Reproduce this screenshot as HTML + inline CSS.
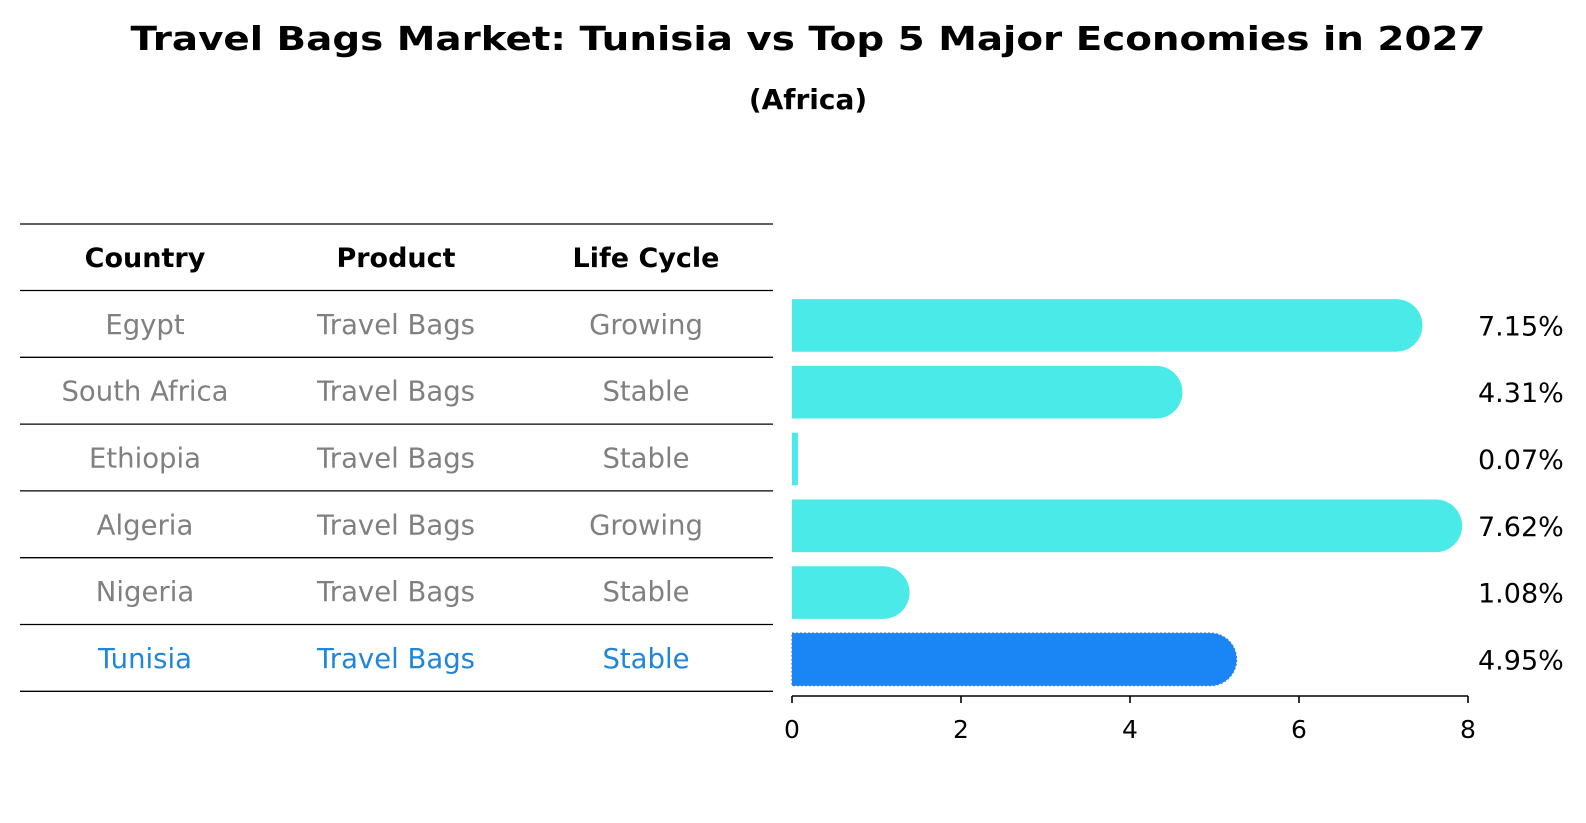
<!DOCTYPE html>
<html><head><meta charset="utf-8"><style>
html,body{margin:0;padding:0;background:#fff;}
svg{display:block;font-family:"DejaVu Sans","Liberation Sans",sans-serif;}
</style></head><body>
<svg id="chart" width="1586" height="823" viewBox="0 0 1586 823">
<text x="808" y="50" text-anchor="middle" font-size="33" font-weight="bold" textLength="1355" lengthAdjust="spacingAndGlyphs">Travel Bags Market: Tunisia vs Top 5 Major Economies in 2027</text>
<text x="808" y="109" text-anchor="middle" font-size="28" font-weight="bold">(Africa)</text>
<g id="table"></g>
<g id="bars"></g>
</svg>
<script>
const countries = ["Egypt","South Africa","Ethiopia","Algeria","Nigeria","Tunisia"];
const products = ["Travel Bags","Travel Bags","Travel Bags","Travel Bags","Travel Bags","Travel Bags"];
const lifeCycles = ["Growing","Stable","Stable","Growing","Stable","Stable"];
const values = [7.15,4.31,0.07,7.62,1.08,4.95];
const valueLabels = ["7.15%","4.31%","0.07%","7.62%","1.08%","4.95%"];
const xTicks = [0,2,4,6,8];
const highlight = "Tunisia";

const NS="http://www.w3.org/2000/svg";
function mk(tag,attrs,parent){const e=document.createElementNS(NS,tag);for(const k in attrs)e.setAttribute(k,attrs[k]);parent.appendChild(e);return e;}
const x0=792, unit=(1468-792)/8;
const xScale=v=>x0+v*unit;
const rowTop=290.5, rowH=66.8;
const yCenter=i=>rowTop+rowH*(i+0.5);

const table=document.getElementById('table');
const cols=[145,396,646];
const headers=["Country","Product","Life Cycle"];
headers.forEach((h,j)=>{
  const t=mk('text',{x:cols[j],y:267,'text-anchor':'middle','font-size':27,'font-weight':'bold',fill:'#000'},table);
  
  
  t.textContent=h;
});
const lineYs=[224,rowTop];
countries.forEach((c,i)=>lineYs.push(rowTop+rowH*(i+1)));
lineYs.forEach((y,k)=>{
  const l=mk('line',{x1:20,x2:773,y1:y,y2:y,stroke:'#000','stroke-width':1.3},table);
  
  
});
countries.forEach((c,i)=>{
  const col=c===highlight?'#1f86dc':'#808080';
  [c,products[i],lifeCycles[i]].forEach((txt,j)=>{
    const t=mk('text',{x:cols[j],y:yCenter(i)+10,'text-anchor':'middle','font-size':27.5,fill:col},table);
    
    
    t.textContent=txt;
  });
});

const bars=document.getElementById('bars');
const bh=52.6, r=26.3;
values.forEach((v,i)=>{
  const yc=yCenter(i)+1.5, w=xScale(v)-x0;
  const isH=countries[i]===highlight;
  const fill=isH?'#1a85f5':'#4aeae8';
  let d;
  if(w>r){d=`M${x0},${yc-bh/2} H${x0+w} A${r},${r} 0 0 1 ${x0+w},${yc+bh/2} H${x0} Z`;}
  else{d=`M${x0},${yc-bh/2} H${x0+w} V${yc+bh/2} H${x0} Z`;}
  const p=mk('path',{d:d,fill:fill},bars);
  if(isH){p.setAttribute('stroke','#3a7fd0');p.setAttribute('stroke-width','1.2');p.setAttribute('stroke-dasharray','2 2');}
  
  
  const t=mk('text',{x:1478,y:yc+10,'font-size':27,fill:'#000'},bars);
  
  
  t.textContent=valueLabels[i];
});
const axY=696;
const ax=mk('line',{x1:x0,x2:xScale(8),y1:axY,y2:axY,stroke:'#000','stroke-width':1.6},bars);


xTicks.forEach(v=>{
  const tk=mk('line',{x1:xScale(v),x2:xScale(v),y1:axY,y2:axY+7,stroke:'#000','stroke-width':1.6},bars);
  
  
  const t=mk('text',{x:xScale(v),y:axY+42,'text-anchor':'middle','font-size':25,fill:'#000'},bars);
  
  
  t.textContent=v;
});
</script>
</body></html>
